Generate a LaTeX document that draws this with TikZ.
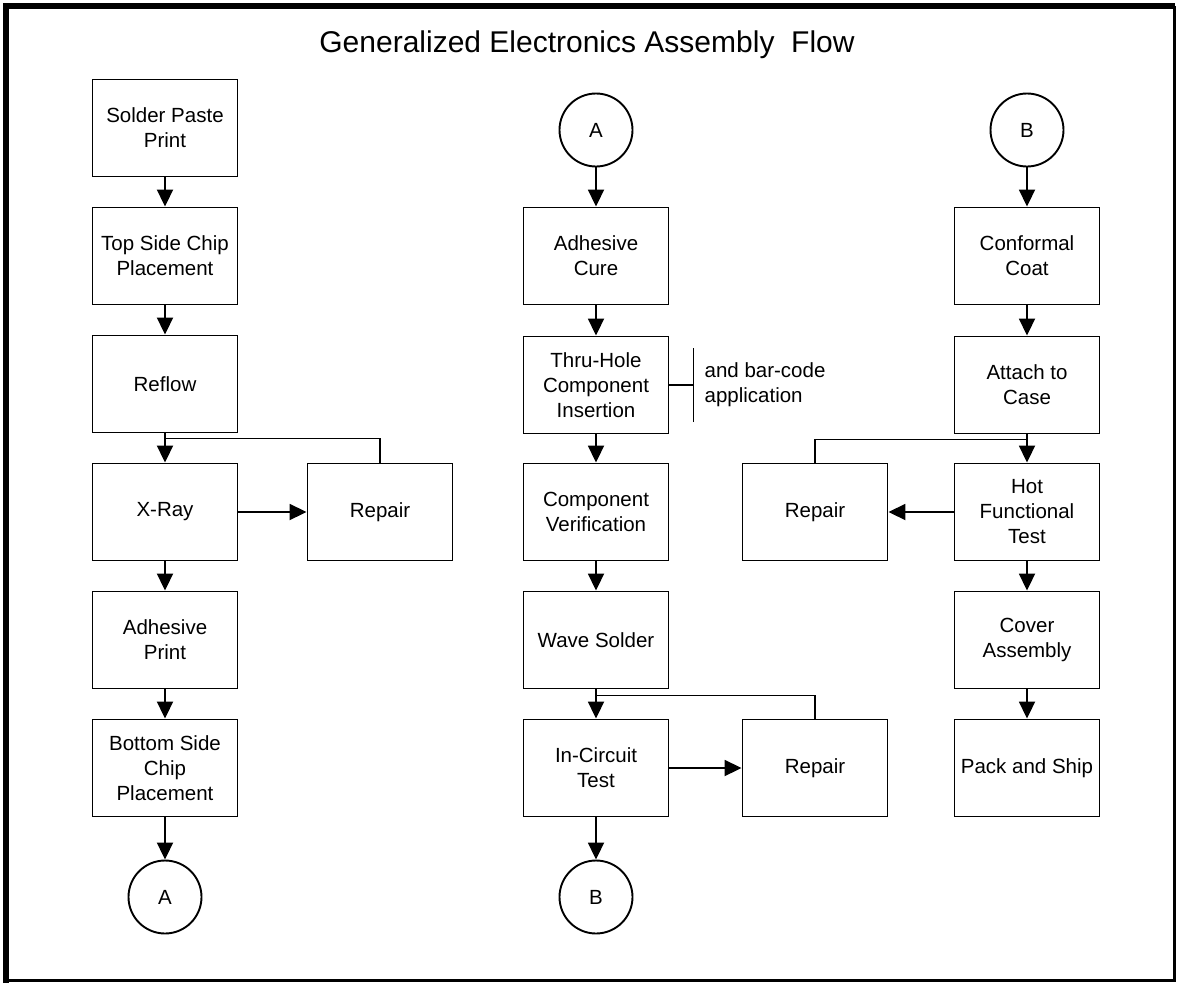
\documentclass[tikz,border=0pt]{standalone}
\usepackage{fontspec}
\setmainfont{Liberation Sans}
\usetikzlibrary{arrows.meta,calc}

\tikzset{
  stepbox/.style={draw, line width=1.9pt, minimum width=145pt, minimum height=97pt,
    inner sep=0pt, align=center, font=\fontsize{20.5}{25}\selectfont},
  joint/.style={draw, circle, line width=1.9pt, minimum size=73pt, inner sep=0pt,
    font=\fontsize{20.5}{25}\selectfont},
  flow/.style={line width=1.9pt, -{Triangle[length=17pt,width=16pt]}},
  plain/.style={line width=1.9pt},
}

\begin{document}
\begin{tikzpicture}[x=1pt, y=-1pt]
  % page and outer frame
  \path[use as bounding box, fill=white] (0,0) rectangle (1178,983);
  \draw[line width=3pt] (7,7) rectangle (1174,980);
  \draw[line width=6pt] (6,983) -- (6,6) -- (1175,6);

  % title
  \node[anchor=base, font=\fontsize{30}{35}\selectfont] (title) at (587,52)
    {Generalized Electronics Assembly~ Flow};

  % left column
  \node[stepbox] (paste)  at (165,128) {Solder Paste\\Print};
  \node[stepbox] (top)    at (165,256) {Top Side Chip\\Placement};
  \node[stepbox] (reflow) at (165,384) {Reflow};
  \node[stepbox] (xray)   at (165,512) {X-Ray};
  \node[stepbox] (adh)    at (165,640) {Adhesive\\Print};
  \node[stepbox] (bottom) at (165,768) {Bottom Side\\Chip\\Placement};
  \node[joint]   (outA)   at (165,897) {A};
  \node[stepbox] (rep1)   at (380,512) {Repair};

  % middle column
  \node[joint]   (inA)    at (596,130) {A};
  \node[stepbox] (cure)   at (596,256) {Adhesive\\Cure};
  \node[stepbox] (thru)   at (596,385) {Thru-Hole\\Component\\Insertion};
  \node[stepbox] (verif)  at (596,512) {Component\\Verification};
  \node[stepbox] (wave)   at (596,640) {Wave Solder};
  \node[stepbox] (ict)    at (596,768) {In-Circuit\\Test};
  \node[joint]   (outB)   at (596,897) {B};
  \node[stepbox] (rep2)   at (815,768) {Repair};

  % right column
  \node[joint]   (inB)    at (1027,130) {B};
  \node[stepbox] (conf)   at (1027,256) {Conformal\\Coat};
  \node[stepbox] (attach) at (1027,385) {Attach to\\Case};
  \node[stepbox] (hft)    at (1027,512) {Hot\\Functional\\Test};
  \node[stepbox] (cover)  at (1027,640) {Cover\\Assembly};
  \node[stepbox] (pack)   at (1027,768) {Pack and Ship};
  \node[stepbox] (rep3)   at (815,512) {Repair};

  % main flow arrows
  \draw[flow] (paste) -- (top);
  \draw[flow] (top) -- (reflow);
  \draw[flow] (reflow) -- (xray);
  \draw[flow] (xray) -- (adh);
  \draw[flow] (adh) -- (bottom);
  \draw[flow] (bottom) -- (outA);

  \draw[flow] (inA) -- (cure);
  \draw[flow] (cure) -- (thru);
  \draw[flow] (thru) -- (verif);
  \draw[flow] (verif) -- (wave);
  \draw[flow] (wave) -- (ict);
  \draw[flow] (ict) -- (outB);

  \draw[flow] (inB) -- (conf);
  \draw[flow] (conf) -- (attach);
  \draw[flow] (attach) -- (hft);
  \draw[flow] (hft) -- (cover);
  \draw[flow] (cover) -- (pack);

  % repair loops
  \draw[flow] (xray) -- (rep1);
  \draw[plain] (rep1.north) |- ($(reflow.south)+(0,-5pt)$);
  \draw[flow] (ict) -- (rep2);
  \draw[plain] (rep2.north) |- ($(wave.south)+(0,-6pt)$);
  \draw[flow] (hft) -- (rep3);
  \draw[plain] (rep3.north) |- ($(attach.south)+(0,-5pt)$);

  % side note on insertion
  \draw[plain] (thru.east) -- ++(24,0) coordinate (brace);
  \draw[plain] ($(brace)+(0,-37pt)$) -- ($(brace)+(0,37pt)$);
  \node[anchor=west, align=left, inner sep=0pt, font=\fontsize{20.5}{25}\selectfont]
    (note) at ($(brace)+(11pt,0)$) {and bar-code\\application};
\end{tikzpicture}
\end{document}
